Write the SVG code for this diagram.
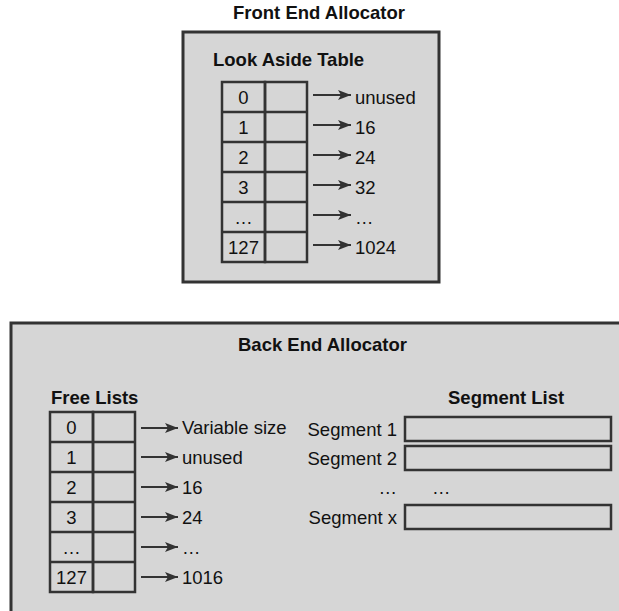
<svg xmlns="http://www.w3.org/2000/svg" width="619" height="611" viewBox="0 0 619 611">
<defs>
<style>
text{font-family:"Liberation Sans",Arial,sans-serif;font-size:18.5px;fill:#111}
.b{font-weight:bold}
.m{text-anchor:middle}
.e{text-anchor:end}
.box{fill:#d6d6d6;stroke:#333;stroke-width:3}
.cell{fill:none;stroke:#333;stroke-width:2.5}
.seg{fill:#d6d6d6;stroke:#333;stroke-width:2.5}
.arr{stroke:#333;stroke-width:2;fill:none;marker-end:url(#ah)}
</style>
<marker id="ah" viewBox="0 0 13 10" refX="13" refY="5" markerWidth="13" markerHeight="10" markerUnits="userSpaceOnUse" orient="auto">
<path d="M0,0 L13,5 L0,10 L3,5 Z" fill="#333"/>
</marker>
</defs>
<g id="front-end-allocator">
<text class="b" x="233" y="19">Front End Allocator</text>
<rect class="box" x="183" y="32" width="256" height="250"/>
<text class="b" x="213" y="66">Look Aside Table</text>
</g>
<g id="look-aside-table">
<rect class="cell" x="222" y="82" width="43" height="180"/>
<rect class="cell" x="265" y="82" width="42" height="180"/>
<path class="cell" d="M222,112H307M222,142H307M222,172H307M222,202H307M222,232H307"/>
<text class="m" x="243.5" y="104">0</text>
<text class="m" x="243.5" y="134">1</text>
<text class="m" x="243.5" y="164">2</text>
<text class="m" x="243.5" y="194">3</text>
<text class="m" x="243.5" y="224">…</text>
<text class="m" x="243.5" y="254">127</text>
</g>
<g id="front-targets">
<text x="355" y="104">unused</text>
<text x="355" y="134">16</text>
<text x="355" y="164">24</text>
<text x="355" y="194">32</text>
<text x="355" y="224">…</text>
<text x="355" y="254">1024</text>
</g>
<g id="back-end-allocator">
<rect class="box" x="11" y="323" width="620" height="300"/>
<text class="b" x="238" y="351">Back End Allocator</text>
<text class="b" x="51" y="404">Free Lists</text>
<text class="b" x="448" y="404">Segment List</text>
</g>
<g id="free-lists">
<rect class="cell" x="50" y="412" width="43" height="180"/>
<rect class="cell" x="93" y="412" width="42" height="180"/>
<path class="cell" d="M50,442H135M50,472H135M50,502H135M50,532H135M50,562H135"/>
<text class="m" x="71.5" y="434">0</text>
<text class="m" x="71.5" y="464">1</text>
<text class="m" x="71.5" y="494">2</text>
<text class="m" x="71.5" y="524">3</text>
<text class="m" x="71.5" y="554">…</text>
<text class="m" x="71.5" y="584">127</text>
</g>
<g id="free-targets">
<text x="182" y="434">Variable size</text>
<text x="182" y="464">unused</text>
<text x="182" y="494">16</text>
<text x="182" y="524">24</text>
<text x="182" y="554">…</text>
<text x="182" y="584">1016</text>
</g>
<g id="segment-list">
<text class="e" x="397" y="436">Segment 1</text>
<rect class="seg" x="405" y="417" width="206" height="24"/>
<text class="e" x="397" y="465">Segment 2</text>
<rect class="seg" x="405" y="446" width="206" height="24"/>
<text class="e" x="397" y="494">…</text>
<text x="432" y="494">…</text>
<text class="e" x="397" y="524">Segment x</text>
<rect class="seg" x="405" y="505" width="206" height="24"/>
</g>
<g id="connectors">
<path class="arr" d="M313,95H351"/>
<path class="arr" d="M313,125H351"/>
<path class="arr" d="M313,155H351"/>
<path class="arr" d="M313,185H351"/>
<path class="arr" d="M313,215H351"/>
<path class="arr" d="M313,245H351"/>
<path class="arr" d="M141,428H178"/>
<path class="arr" d="M141,457H178"/>
<path class="arr" d="M141,487H178"/>
<path class="arr" d="M141,517H178"/>
<path class="arr" d="M141,547H178"/>
<path class="arr" d="M141,577H178"/>
</g>
</svg>
